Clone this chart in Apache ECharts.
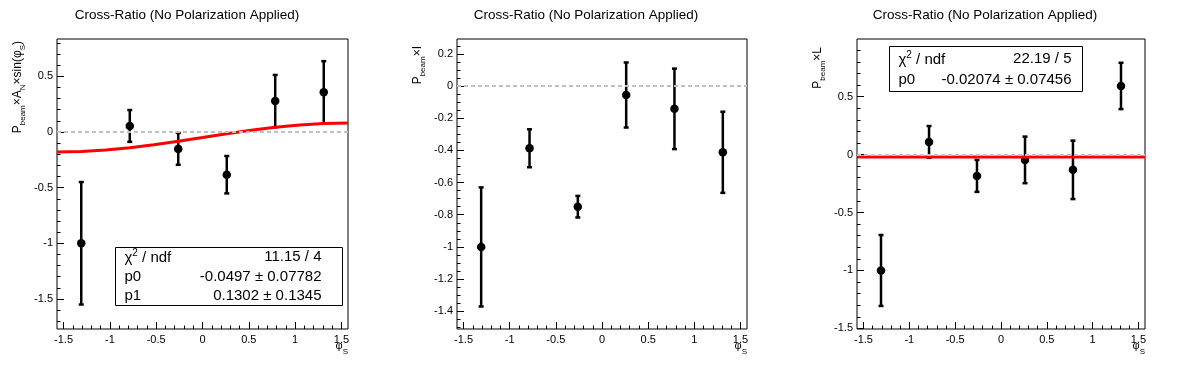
<!DOCTYPE html>
<html>
<head>
<meta charset="utf-8">
<script src="https://cdn.jsdelivr.net/npm/echarts@6/dist/echarts.min.js"></script>
<style>
html,body{margin:0;padding:0;background:#fff;}
#chart{width:1196px;height:372px;}
</style>
</head>
<body>
<div id="chart"></div>
<script>
// ---------------- data ----------------
const titleText = 'Cross-Ratio (No Polarization Applied)';
const phiS = [-1.309, -0.785, -0.262, 0.262, 0.785, 1.309];

const aNValues = [-1.0, 0.054, -0.152, -0.384, 0.277, 0.357];
const aNErrors = [0.55, 0.143, 0.143, 0.168, 0.235, 0.279];

const iValues = [-1.0, -0.387, -0.75, -0.056, -0.142, -0.412];
const iErrors = [0.37, 0.118, 0.067, 0.202, 0.25, 0.252];

const lValues = [-1.0, 0.109, -0.184, -0.046, -0.132, 0.592];
const lErrors = [0.306, 0.137, 0.138, 0.201, 0.252, 0.2];

// fit curves
const fitANx = [-1.5708, -1.309, -1.047, -0.785, -0.524, -0.262, 0, 0.262, 0.524, 0.785, 1.047, 1.309, 1.5708];
const fitANy = [-0.180, -0.175, -0.162, -0.142, -0.115, -0.083, -0.050, -0.016, 0.015, 0.042, 0.063, 0.076, 0.080];
const fitLx = [-1.5708, 1.5708];
const fitLy = [-0.02074, -0.02074];

// stats boxes
const statsANLabels = ['χ{sup|2} / ndf', 'p0', 'p1'];
const statsANValues = ['11.15 / 4', '-0.0497 ± 0.07782', '0.1302 ± 0.1345'];
const statsLLabels = ['χ{sup|2} / ndf', 'p0'];
const statsLValues = ['22.19 / 5', '-0.02074 ± 0.07456'];

// tick labels
const xTicks = [-1.5, -1, -0.5, 0, 0.5, 1, 1.5];
const yTicksAN = [-1.5, -1, -0.5, 0, 0.5];
const yTicksI = [-1.4, -1.2, -1, -0.8, -0.6, -0.4, -0.2, 0, 0.2];
const yTicksL = [-1.5, -1, -0.5, 0, 0.5];

// ---------------- layout / style ----------------
const FONT = "'Liberation Sans', Arial, Helvetica, sans-serif";
function minorTicks(from, to, step) {
  const out = [];
  const n = Math.round((to - from) / step);
  for (let k = 0; k <= n; k++) out.push(+(from + k * step).toFixed(4));
  return out;
}
const panels = [
  { grid: { left: 57, top: 39, width: 291, height: 290 }, ymin: -1.77, ymax: 0.835,
    yTicks: yTicksAN, yMinor: minorTicks(-1.7, 0.8, 0.1),
    vals: aNValues, errs: aNErrors, fitX: fitANx, fitY: fitANy },
  { grid: { left: 457, top: 39, width: 290, height: 290 }, ymin: -1.51, ymax: 0.292,
    yTicks: yTicksI, yMinor: minorTicks(-1.5, 0.25, 0.05),
    vals: iValues, errs: iErrors, fitX: null, fitY: null },
  { grid: { left: 857, top: 39, width: 288, height: 290 }, ymin: -1.505, ymax: 0.997,
    yTicks: yTicksL, yMinor: minorTicks(-1.5, 0.9, 0.1),
    vals: lValues, errs: lErrors, fitX: fitLx, fitY: fitLy }
];
const xMinor = minorTicks(-1.5, 1.5, 0.1);

const grids = [], xAxes = [], yAxes = [], series = [];
const axisLbl = { fontSize: 11, color: '#000', fontFamily: FONT };
const noLine = { show: false, onZero: false };

panels.forEach((p, i) => {
  grids.push(Object.assign({ show: true, borderColor: '#000', borderWidth: 1, backgroundColor: 'transparent' }, p.grid));
  xAxes.push({
    gridIndex: i, type: 'value', min: -1.5708, max: 1.5708, position: 'bottom',
    axisLine: noLine, splitLine: { show: false },
    axisTick: { show: true, inside: true, length: 7, customValues: xTicks, lineStyle: { color: '#000', width: 1 } },
    axisLabel: Object.assign({ customValues: xTicks, margin: 5, formatter: v => String(v) }, axisLbl)
  });
  xAxes.push({
    gridIndex: i, type: 'value', min: -1.5708, max: 1.5708, position: 'bottom',
    axisLine: noLine, splitLine: { show: false }, axisLabel: { show: false },
    axisTick: { show: true, inside: true, length: 3.5, customValues: xMinor, lineStyle: { color: '#000', width: 1 } }
  });
  yAxes.push({
    gridIndex: i, type: 'value', min: p.ymin, max: p.ymax, position: 'left',
    axisLine: noLine, splitLine: { show: false },
    axisTick: { show: true, inside: true, length: 7, customValues: p.yTicks, lineStyle: { color: '#000', width: 1 } },
    axisLabel: Object.assign({ customValues: p.yTicks, margin: 4, formatter: v => String(v) }, axisLbl)
  });
  yAxes.push({
    gridIndex: i, type: 'value', min: p.ymin, max: p.ymax, position: 'left',
    axisLine: noLine, splitLine: { show: false }, axisLabel: { show: false },
    axisTick: { show: true, inside: true, length: 3.5, customValues: p.yMinor, lineStyle: { color: '#000', width: 1 } }
  });
  const xi = 2 * i, yi = 2 * i;
  // zero reference line
  series.push({
    type: 'line', xAxisIndex: xi, yAxisIndex: yi, data: [], silent: true,
    markLine: { silent: true, symbol: 'none', label: { show: false },
      lineStyle: { color: '#c0c0c0', type: [4, 3], width: 2 }, data: [{ yAxis: 0 }] }
  });
  // error bars
  series.push({
    type: 'custom', xAxisIndex: xi, yAxisIndex: yi, silent: true,
    data: phiS.map((x, k) => [x, p.vals[k], p.errs[k]]),
    encode: { x: 0, y: 1 },
    renderItem: function (params, api) {
      const x = api.value(0), y = api.value(1), e = api.value(2);
      const t = api.coord([x, y + e]), b = api.coord([x, y - e]);
      const st = { stroke: '#000', lineWidth: 2.5 };
      const hw = 2.5;
      return { type: 'group', children: [
        { type: 'line', shape: { x1: t[0], y1: t[1], x2: b[0], y2: b[1] }, style: st },
        { type: 'line', shape: { x1: t[0] - hw, y1: t[1], x2: t[0] + hw, y2: t[1] }, style: st },
        { type: 'line', shape: { x1: b[0] - hw, y1: b[1], x2: b[0] + hw, y2: b[1] }, style: st }
      ] };
    }
  });
  // markers
  series.push({
    type: 'scatter', xAxisIndex: xi, yAxisIndex: yi, silent: true,
    symbol: 'circle', symbolSize: 8.5, itemStyle: { color: '#000', opacity: 1 },
    data: phiS.map((x, k) => [x, p.vals[k]])
  });
  // fit
  if (p.fitX) {
    series.push({
      type: 'line', xAxisIndex: xi, yAxisIndex: yi, silent: true, showSymbol: false,
      symbol: 'none', smooth: false, clip: true,
      lineStyle: { color: '#ff0000', width: 3 },
      data: p.fitX.map((x, k) => [x, p.fitY[k]])
    });
  }
});

// ---------------- text graphics ----------------
const graphics = [];
[187, 586, 985].forEach(cx => graphics.push({
  type: 'text', x: cx, y: 15, silent: true,
  style: { text: titleText, fontSize: 13.5, fontFamily: FONT, fill: '#000', align: 'center', verticalAlign: 'middle' }
}));

const richY = {
  m: { fontSize: 12, fontFamily: FONT, fill: '#000', color: '#000', verticalAlign: 'bottom', padding: [0, 0, 3, 0] },
  s: { fontSize: 8, fontFamily: FONT, fill: '#000', color: '#000', verticalAlign: 'bottom' }
};
const yNames = [
  { x: 27, y: 41, text: '{m|P}{s|beam}{m|×A}{s|N}{m|×sin(φ}{s|S}{m|)}' },
  { x: 427, y: 46, text: '{m|P}{s|beam}{m|×I}' },
  { x: 827, y: 47, text: '{m|P}{s|beam}{m|×L}' }
];
yNames.forEach(n => graphics.push({
  type: 'text', x: n.x, y: n.y, rotation: Math.PI / 2, silent: true,
  style: { text: n.text, rich: richY, align: 'right', verticalAlign: 'bottom', fill: '#000' }
}));

const richX = {
  m: { fontSize: 11, fontFamily: FONT, fill: '#000', verticalAlign: 'bottom', padding: [0, 0, 5, 0] },
  s: { fontSize: 8, fontFamily: FONT, fill: '#000', verticalAlign: 'bottom' }
};
[348, 747, 1145].forEach(rx => graphics.push({
  type: 'text', x: rx, y: 356, silent: true,
  style: { text: '{m|φ}{s|S}', rich: richX, align: 'right', verticalAlign: 'bottom' }
}));

function statsBox(x0, y0, w, h, labels, values, rowYs, padL, padR) {
  const rich = {
    n: { fontSize: 15, fontFamily: FONT, fill: '#000', verticalAlign: 'bottom' },
    sup: { fontSize: 10, fontFamily: FONT, fill: '#000', verticalAlign: 'bottom', padding: [0, 0, 7, 0] }
  };
  graphics.push({ type: 'rect', silent: true, shape: { x: x0, y: y0, width: w, height: h },
    style: { fill: '#fff', stroke: '#000', lineWidth: 1 }, z: 100 });
  labels.forEach((lab, k) => {
    graphics.push({ type: 'text', x: x0 + padL, y: rowYs[k], silent: true, z: 101,
      style: { text: '{n|' + lab.replace('{sup|2}', '}{sup|2}{n|') + '}', rich: rich, align: 'left', verticalAlign: 'middle' } });
    graphics.push({ type: 'text', x: x0 + w - padR, y: rowYs[k], silent: true, z: 101,
      style: { text: values[k], fontSize: 15, fontFamily: FONT, fill: '#000', align: 'right', verticalAlign: 'middle' } });
  });
}
statsBox(115.5, 247.5, 227, 58, statsANLabels, statsANValues, [257, 277, 296], 9, 21);
statsBox(889.5, 46.5, 193, 45, statsLLabels, statsLValues, [58.5, 80], 9, 11);

const chart = echarts.init(document.getElementById('chart'), null, { renderer: 'canvas' });
chart.setOption({
  animation: false,
  backgroundColor: '#fff',
  textStyle: { fontFamily: FONT },
  grid: grids, xAxis: xAxes, yAxis: yAxes, series: series,
  graphic: graphics
});
</script>
</body>
</html>
